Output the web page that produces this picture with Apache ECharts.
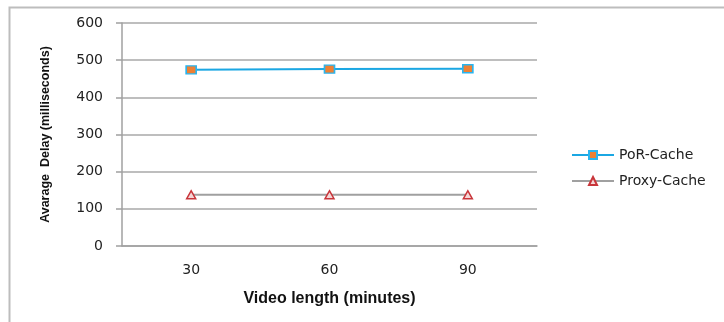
<!DOCTYPE html>
<html>
<head>
<meta charset="utf-8">
<script src="https://cdn.jsdelivr.net/npm/echarts@6/dist/echarts.min.js"></script>
<style>html,body{margin:0;padding:0;background:#fff}#c{width:724px;height:322px}</style>
</head>
<body>
<div id="c"></div>
<script>
var categories = ['30', '60', '90'];
var porCache = [474, 476, 477];
var proxyCache = [138, 138, 138];
var yTicks = { min: 0, max: 600, interval: 100 };

var chart = echarts.init(document.getElementById('c'));
chart.setOption({
  animation: false,
  backgroundColor: '#fff',
  graphic: [{
    type: 'rect', shape: { x: 9.5, y: 7.5, width: 800, height: 400 },
    style: { fill: 'none', stroke: '#bdbdbd', lineWidth: 2 }, silent: true
  }],
  grid: { left: 122, right: 187, top: 23, bottom: 76 },
  legend: {
    orient: 'vertical', left: 566, top: 143, itemWidth: 42, itemHeight: 10, itemGap: 12,
    textStyle: { fontFamily: 'DejaVu Sans', fontSize: 14, color: '#222' },
    data: ['PoR-Cache', 'Proxy-Cache']
  },
  xAxis: {
    type: 'category', data: categories, boundaryGap: true,
    name: 'Video length (minutes)', nameLocation: 'middle', nameGap: 45,
    nameTextStyle: { fontFamily: 'Liberation Sans', fontWeight: 'bold', fontSize: 16, color: '#111' },
    axisLine: { lineStyle: { color: '#a0a0a0', width: 1.5 } },
    axisTick: { show: false },
    axisLabel: { margin: 17, fontFamily: 'DejaVu Sans', fontSize: 14, color: '#222' }
  },
  yAxis: {
    type: 'value', min: yTicks.min, max: yTicks.max, interval: yTicks.interval,
    name: 'Avarage  Delay (milliseconds)', nameLocation: 'middle', nameGap: 70,
    nameTextStyle: { fontFamily: 'Liberation Sans', fontWeight: 'bold', fontSize: 12.5, color: '#111' },
    axisLine: { show: true, onZero: false, lineStyle: { color: '#a0a0a0', width: 1.5 } },
    axisTick: { show: true, inside: false, length: 6, lineStyle: { color: '#a0a0a0', width: 1.5 } },
    axisLabel: { margin: 19, fontFamily: 'DejaVu Sans', fontSize: 14, color: '#222' },
    splitLine: { lineStyle: { color: '#a8a8a8', width: 1.5 } }
  },
  series: [{
    name: 'PoR-Cache', type: 'line', data: porCache,
    symbol: 'rect', symbolSize: [10, 8],
    lineStyle: { color: '#1ba7e3', width: 2 },
    itemStyle: { color: '#ee8033', borderColor: '#2ab4ee', borderWidth: 1.5 }
  }, {
    name: 'Proxy-Cache', type: 'line', data: proxyCache,
    symbol: 'triangle', symbolSize: [9, 8],
    lineStyle: { color: '#a0a0a0', width: 2 },
    itemStyle: { color: '#f4d6d6', borderColor: '#c8353a', borderWidth: 1.5 }
  }]
});
</script>
</body>
</html>
